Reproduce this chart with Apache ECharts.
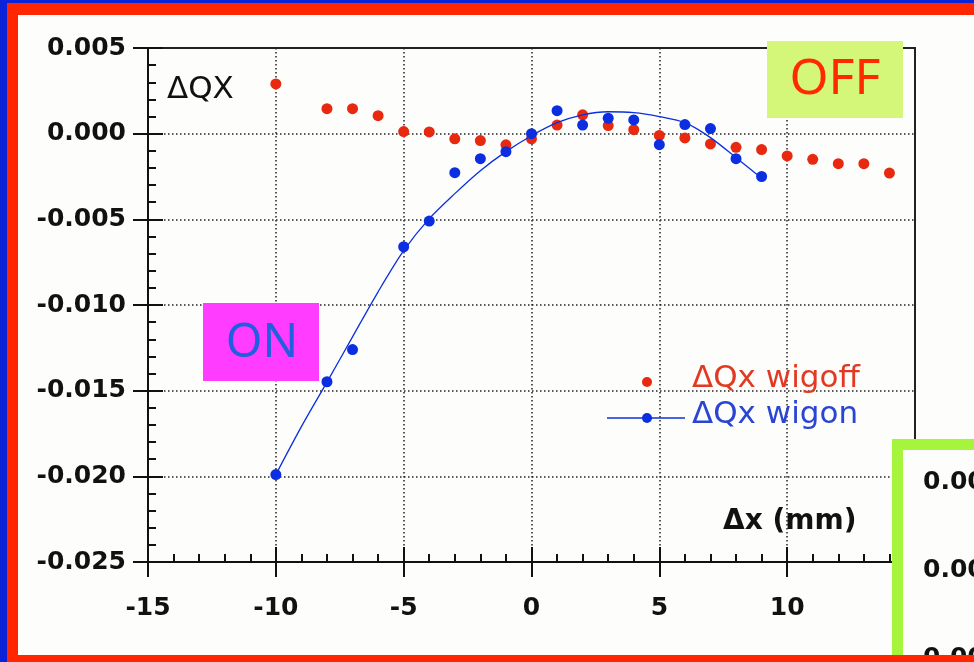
<!DOCTYPE html>
<html>
<head>
<meta charset="utf-8">
<script src="https://cdn.jsdelivr.net/npm/echarts@6/dist/echarts.min.js"></script>
<style>
  html, body { margin: 0; padding: 0; background: #fdfdfb; }
  #main { width: 974px; height: 662px; }
</style>
</head>
<body>
<div id="main"></div>
<script>
// 數據
const offX = [-10, -8, -7, -6, -5, -4, -3, -2, -1, 0, 1, 2, 3, 4, 5, 6, 7, 8, 9, 10, 11, 12, 13, 14];
const offY = [0.0029, 0.00146, 0.00146, 0.00105, 0.00012, 0.0001, -0.0003, -0.0004, -0.00065, -0.0003,
              0.0005, 0.0011, 0.00047, 0.00023, -0.0001, -0.00025, -0.0006, -0.0008, -0.00093, -0.0013,
              -0.0015, -0.00175, -0.00175, -0.0023];
const onX = [-10, -8, -7, -5, -4, -3, -2, -1, 0, 1, 2, 3, 4, 5, 6, 7, 8, 9];
const onY = [-0.0199, -0.01448, -0.0126, -0.0066, -0.0051, -0.00228, -0.00146, -0.00105, 0.0,
             0.00134, 0.0005, 0.0009, 0.0008, -0.00064, 0.00053, 0.0003, -0.00146, -0.0025];
const fitX = [-10, -9, -8, -7, -6, -5, -4, -3, -2, -1, 0, 1, 2, 3, 4, 5, 6, 7, 8, 9];
const fitY = [-0.0199, -0.0171, -0.0145, -0.01186, -0.00923, -0.00683, -0.00496, -0.0035, -0.00216, -0.00105,
              -0.00012, 0.00064, 0.0011, 0.00128, 0.00123, 0.001, 0.00064, -0.00023, -0.0014, -0.0026];

const myChart = echarts.init(document.getElementById('main'));

const pair = (xs, ys) => xs.map((x, i) => [x, ys[i]]);
const labelFont = { fontFamily: 'DejaVu Sans', fontWeight: 'bold', fontSize: 25, color: '#111' };
const axisLine = { show: true, onZero: false, lineStyle: { color: '#111', width: 2 } };
const dotted = { show: true, lineStyle: { type: [1.5, 2.5], color: '#222', width: 1.5 } };

const RED = '#e8290f';
const BLUE = '#0b2fe0';

const option = {
    animation: false,
    backgroundColor: '#fdfdfb',
    grid: {
        left: 148, right: 59, top: 48, bottom: 100,
        show: true, borderColor: '#222', borderWidth: 2, backgroundColor: 'transparent'
    },
    xAxis: [
        {
            type: 'value', min: -15, max: 15, interval: 5,
            axisLine: axisLine,
            axisTick: { show: true, length: 15, lineStyle: { color: '#111', width: 2 } },
            axisLabel: Object.assign({ margin: 34 }, labelFont),
            splitLine: dotted
        },
        {
            type: 'value', min: -15, max: 15, interval: 5, position: 'bottom',
            axisLine: { show: false, onZero: false },
            axisTick: { show: true, inside: true, length: 15, lineStyle: { color: '#111', width: 2 } },
            minorTick: { show: true, splitNumber: 5, length: 8, lineStyle: { color: '#111', width: 2 } },
            axisLabel: { show: false },
            splitLine: { show: false }
        }
    ],
    yAxis: [
        {
            type: 'value', min: -0.025, max: 0.005, interval: 0.005,
            axisLine: axisLine,
            axisTick: { show: true, length: 15, lineStyle: { color: '#111', width: 2 } },
            axisLabel: Object.assign({ margin: 22, formatter: v => v.toFixed(3) }, labelFont),
            splitLine: dotted
        },
        {
            type: 'value', min: -0.025, max: 0.005, interval: 0.005, position: 'left',
            axisLine: { show: false, onZero: false },
            axisTick: { show: true, inside: true, length: 15, lineStyle: { color: '#111', width: 2 } },
            minorTick: { show: true, splitNumber: 5, length: 8, lineStyle: { color: '#111', width: 2 } },
            axisLabel: { show: false },
            splitLine: { show: false }
        }
    ],
    series: [
        {
            name: 'ΔQx wigoff', type: 'scatter', data: pair(offX, offY),
            symbolSize: 11, itemStyle: { color: RED, opacity: 1 }, z: 3
        },
        {
            name: 'fit', type: 'line', data: pair(fitX, fitY), smooth: 0.3,
            showSymbol: false, lineStyle: { color: BLUE, width: 1.3 }, z: 4
        },
        {
            name: 'ΔQx wigon', type: 'scatter', data: pair(onX, onY),
            symbolSize: 11, itemStyle: { color: BLUE, opacity: 1 }, z: 5
        }
    ],
    graphic: [
        // 外框
        { type: 'rect', shape: { x: 0, y: 0, width: 974, height: 15 }, style: { fill: '#ff2600' }, z: 100 },
        { type: 'rect', shape: { x: 0, y: 0, width: 974, height: 3 }, style: { fill: '#0a22d8' }, z: 101 },
        { type: 'rect', shape: { x: 0, y: 0, width: 18, height: 662 }, style: { fill: '#ff2600' }, z: 100 },
        { type: 'rect', shape: { x: 0, y: 0, width: 7, height: 662 }, style: { fill: '#0a22d8' }, z: 101 },
        { type: 'rect', shape: { x: 0, y: 655, width: 974, height: 7 }, style: { fill: '#ff2600' }, z: 100 },
        // 軸標題
        { type: 'text', left: 167, top: 74, style: { text: 'ΔQX', font: '31px "DejaVu Sans"', fill: '#111' }, z: 50 },
        { type: 'text', left: 723, top: 508, style: { text: 'Δx (mm)', font: 'bold 28px "DejaVu Sans"', fill: '#111' }, z: 50 },
        // 圖例
        { type: 'circle', shape: { cx: 647, cy: 382, r: 5 }, style: { fill: RED }, z: 50 },
        { type: 'text', left: 692, top: 363, style: { text: 'ΔQx wigoff', font: '31px "DejaVu Sans"', fill: '#e23a22' }, z: 50 },
        { type: 'line', shape: { x1: 607, y1: 418, x2: 685, y2: 418 }, style: { stroke: BLUE, lineWidth: 1.5 }, z: 50 },
        { type: 'circle', shape: { cx: 647, cy: 418, r: 5 }, style: { fill: BLUE }, z: 51 },
        { type: 'text', left: 692, top: 399, style: { text: 'ΔQx wigon', font: '31px "DejaVu Sans"', fill: '#2a45d4' }, z: 50 },
        // OFF / ON 標籤
        { type: 'rect', shape: { x: 767, y: 41, width: 136, height: 77 }, style: { fill: '#d4f77a' }, z: 60 },
        { type: 'text', x: 835, y: 80, style: { text: 'OFF', font: '50px "Noto Sans"', fill: '#ff2a00', align: 'center', verticalAlign: 'middle' }, z: 61 },
        { type: 'rect', shape: { x: 203, y: 303, width: 116, height: 78 }, style: { fill: '#ff3cff' }, z: 60 },
        { type: 'text', x: 262, y: 344, style: { text: 'ON', font: '47px "Noto Sans"', fill: '#1f5fe0', align: 'center', verticalAlign: 'middle' }, z: 61 },
        // 右下角另一張圖
        { type: 'rect', shape: { x: 892, y: 439, width: 90, height: 230 }, style: { fill: '#a4f53c' }, z: 70 },
        { type: 'rect', shape: { x: 903, y: 450, width: 80, height: 220 }, style: { fill: '#fdfdfb' }, z: 71 },
        { type: 'text', left: 923, top: 470, style: { text: '0.005', font: 'bold 25px "DejaVu Sans"', fill: '#111' }, z: 72 },
        { type: 'text', left: 923, top: 558, style: { text: '0.000', font: 'bold 25px "DejaVu Sans"', fill: '#111' }, z: 72 },
        { type: 'text', left: 923, top: 646, style: { text: '0.005', font: 'bold 25px "DejaVu Sans"', fill: '#111' }, z: 72 }
    ]
};

myChart.setOption(option);
</script>
</body>
</html>
